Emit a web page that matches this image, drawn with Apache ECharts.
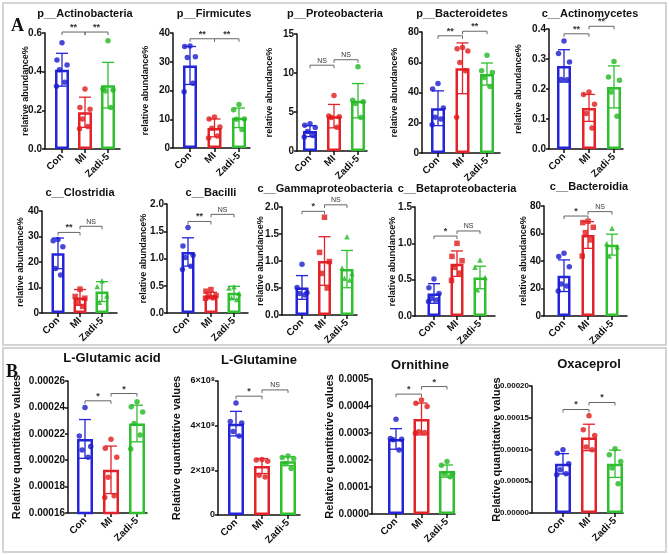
<!DOCTYPE html>
<html>
<head>
<meta charset="utf-8">
<script src="https://cdn.jsdelivr.net/npm/echarts@6/dist/echarts.min.js"></script>
<style>
html, body { margin: 0; padding: 0; background: #fff; }
#main { width: 669px; height: 555px; }
</style>
</head>
<body>
<div id="main"></div>
<script>
var groups = ["Con", "MI", "Zadi-5"];

// p__Actinobacteria
var actinoMean = [0.41, 0.19, 0.33];
var actinoSd = [0.085, 0.078, 0.118];
var actinoDots = [[0.55, 0.46, 0.435, 0.41, 0.345, 0.325], [0.31, 0.215, 0.205, 0.155, 0.117, 0.105], [0.56, 0.31, 0.305, 0.30, 0.215]];
var actinoSig = [[0, 1, 0.605, "**"], [1, 2, 0.605, "**"]];

// p__Firmicutes
var firmiMean = [28.7, 7.0, 10.5];
var firmiSd = [6.6, 3.1, 3.4];
var firmiDots = [[35.5, 35.3, 31.7, 31.5, 22.5, 19.6], [10.8, 10.1, 7.3, 6.9, 4.2, 3.5], [15.1, 13.3, 10.1, 10.0, 6.4]];
var firmiSig = [[0, 1, 38, "**"], [1, 2, 38, "**"]];

// p__Proteobacteria
var proteoMean = [2.55, 4.47, 6.45];
var proteoSd = [0.7, 1.5, 2.2];
var proteoDots = [[3.5, 3.3, 3.0, 2.5, 2.0, 1.8], [7.1, 4.5, 4.4, 4.3, 3.05], [10.8, 6.5, 6.3, 6.1, 4.3]];
var proteoSig = [[0, 1, 11.0, "NS"], [1, 2, 11.7, "NS"]];

// p__Bacteroidetes
var bacteMean = [29.6, 56, 52.2];
var bacteSd = [11.5, 16.8, 7.3];
var bacteDots = [[46.0, 42.3, 29.8, 23.7, 22.5, 18.6], [69.7, 69.0, 67.5, 59.9, 54.4, 23.7], [64.7, 54.4, 53.3, 50.0, 43.9]];
var bacteSig = [[0, 1, 77.5, "**"], [1, 2, 80.5, "**"]];

// c__Actinomycetes
var mycetMean = [0.277, 0.137, 0.207];
var mycetSd = [0.054, 0.045, 0.07];
var mycetDots = [[0.36, 0.318, 0.29, 0.232, 0.231], [0.19, 0.182, 0.149, 0.118, 0.07], [0.292, 0.24, 0.229, 0.19, 0.109]];
var mycetSig = [[0, 1, 0.384, "**"], [1, 2, 0.409, "**"]];

// c__Clostridia
var clostMean = [23.4, 6.1, 8.4];
var clostSd = [6.0, 3.1, 3.9];
var clostDots = [[28.8, 28.3, 26, 17.5, 14.9], [9.35, 6.5, 5.8, 4.2, 2.6], [12.6, 10.4, 6.8, 4.2]];
var clostSig = [[0, 1, 31.6, "**"], [1, 2, 34, "NS"]];

// c__Bacilli
var baciMean = [1.12, 0.32, 0.37];
var baciSd = [0.26, 0.06, 0.12];
var baciDots = [[1.57, 1.23, 1.06, 1.02, 0.86, 0.80], [0.43, 0.40, 0.32, 0.31, 0.28, 0.27], [0.48, 0.46, 0.36, 0.28, 0.25]];
var baciSig = [[0, 1, 1.68, "**"], [1, 2, 1.81, "NS"]];

// c__Gammaproteobacteria
var gammaMean = [0.51, 1.0, 0.85];
var gammaSd = [0.22, 0.45, 0.345];
var gammaDots = [[0.94, 0.51, 0.41, 0.40, 0.37], [1.81, 1.16, 0.99, 0.77, 0.50], [1.45, 0.87, 0.77, 0.68, 0.65]];
var gammaSig = [[0, 1, 1.92, "*"], [1, 2, 2.04, "NS"]];

// c__Betaproteobacteria
var betaMean = [0.31, 0.72, 0.53];
var betaSd = [0.135, 0.175, 0.155];
var betaDots = [[0.51, 0.39, 0.31, 0.24, 0.22, 0.2], [1.0, 0.82, 0.76, 0.67, 0.59, 0.49], [0.77, 0.67, 0.53, 0.36]];
var betaSig = [[0, 1, 1.10, "*"], [1, 2, 1.17, "NS"]];

// c__Bacteroidia
var bdiaMean = [29.3, 58.9, 51.9];
var bdiaSd = [11.5, 9.7, 7.6];
var bdiaDots = [[45.6, 43.2, 35.9, 23.3, 21.8, 18.2], [68.9, 67.9, 64.5, 60.6, 55.3, 43.6], [63.8, 52.8, 50.4, 43.6]];
var bdiaSig = [[0, 1, 72.7, "*"], [1, 2, 75.9, "NS"]];

// L-Glutamic acid
var gluaMean = [0.0002161, 0.0001927, 0.0002278];
var gluaSd = [0.0000147, 0.0000180, 0.0000139];
var gluaDots = [[0.00024, 0.0002183, 0.0002103, 0.0002077, 0.0002022], [0.0002158, 0.000209, 0.0002022, 0.0001871, 0.0001731, 0.0001718], [0.0002442, 0.0002404, 0.0002366, 0.0002278, 0.000219, 0.0002085]];
var gluaSig = [[0, 1, 0.000245, "*"], [1, 2, 0.0002505, "*"]];

// L-Glutamine
var glnMean = [4.09e8, 2.19e8, 2.41e8];
var glnSd = [0.55e8, 0.335e8, 0.2e8];
var glnDots = [[5.02e8, 4.19e8, 4.12e8, 3.74e8, 3.54e8], [2.49e8, 2.46e8, 2.41e8, 1.78e8, 1.70e8], [2.64e8, 2.58e8, 2.53e8, 2.31e8, 2.08e8]];
var glnSig = [[0, 1, 5.32e8, "*"], [1, 2, 5.6e8, "NS"]];

// Ornithine
var ornMean = [0.000278, 0.000352, 0.000159];
var ornSd = [0.000038, 0.000059, 0.0000225];
var ornDots = [[0.000351, 0.00028, 0.000277, 0.000275, 0.000237], [0.000422, 0.00041, 0.000398, 0.000305, 0.000302, 0.000299], [0.000194, 0.000181, 0.00015, 0.000148, 0.000138]];
var ornSig = [[0, 1, 0.000444, "*"], [1, 2, 0.000472, "*"]];

// Oxaceprol
var oxaMean = [0.0000775, 0.000119, 0.0000775];
var oxaSd = [0.000016, 0.0000208, 0.0000215];
var oxaDots = [[0.0000995, 0.000094, 0.0000775, 0.0000681, 0.000062, 0.0000602], [0.000153, 0.000131, 0.000122, 0.000104, 0.0000995], [0.000101, 0.0000916, 0.0000812, 0.0000707, 0.0000461]];
var oxaSig = [[0, 1, 0.000163, "*"], [1, 2, 0.000174, "*"]];

var barColors = ["#2424d8", "#e4222a", "#2fbf2f"];
var dotColors = ["#1a1acc", "#e01a1a", "#22b822"];
var FONT = '"Liberation Sans", Arial, sans-serif';

// title, y range, data, layout (axis x, first/last bar centre, axis end, top, bottom, name gap, label font)
var panels = [
	{ title: "p__Actinobacteria", tx: 85, ty: 14, min: 0, max: 0.6, step: 0.2, dec: 1, mean: actinoMean, sd: actinoSd, dots: actinoDots, sig: actinoSig, ax: 45, c0: 62, c2: 108, end: 120, top: 33, bottom: 149, gap: 15, bw: 14, row: 0 },
	{ title: "p__Firmicutes", tx: 214, ty: 14, min: 0, max: 40, step: 10, dec: 0, mean: firmiMean, sd: firmiSd, dots: firmiDots, sig: firmiSig, ax: 173, c0: 190, c2: 239, end: 250, top: 33, bottom: 148, gap: 23, bw: 14, row: 0 },
	{ title: "p__Proteobacteria", tx: 335, ty: 14, min: 0, max: 15, step: 5, dec: 0, mean: proteoMean, sd: proteoSd, dots: proteoDots, sig: proteoSig, ax: 297, c0: 310, c2: 358, end: 367, top: 34, bottom: 151, gap: 23, bw: 14, row: 0 },
	{ title: "p__Bacteroidetes", tx: 462, ty: 14, min: 0, max: 80, step: 20, dec: 0, mean: bacteMean, sd: bacteSd, dots: bacteDots, sig: bacteSig, ax: 422, c0: 438, c2: 487, end: 500, top: 32, bottom: 153, gap: 23, bw: 14, row: 0 },
	{ title: "c__Actinomycetes", tx: 590, ty: 14, min: 0, max: 0.4, step: 0.1, dec: 1, mean: mycetMean, sd: mycetSd, dots: mycetDots, sig: mycetSig, ax: 549, c0: 564, c2: 614, end: 623, top: 29, bottom: 149, gap: 26, bw: 14, row: 0 },
	{ title: "c__Clostridia", tx: 80, ty: 193, min: 0, max: 40, step: 10, dec: 0, mean: clostMean, sd: clostSd, dots: clostDots, sig: clostSig, ax: 42, c0: 58, c2: 102, end: 117, top: 211, bottom: 313, gap: 17, bw: 13, row: 1 },
	{ title: "c__Bacilli", tx: 211, ty: 193, min: 0, max: 2, step: 0.5, dec: 1, mean: baciMean, sd: baciSd, dots: baciDots, sig: baciSig, ax: 167, c0: 188, c2: 234, end: 248, top: 204, bottom: 313, gap: 19, bw: 13, row: 1 },
	{ title: "c__Gammaproteobacteria", tx: 325, ty: 189, min: 0, max: 2, step: 0.5, dec: 1, mean: gammaMean, sd: gammaSd, dots: gammaDots, sig: gammaSig, ax: 282, c0: 302, c2: 347, end: 357, top: 207, bottom: 315, gap: 17, bw: 13, row: 1 },
	{ title: "c__Betaproteobacteria", tx: 457, ty: 189, min: 0, max: 1.5, step: 0.5, dec: 1, mean: betaMean, sd: betaSd, dots: betaDots, sig: betaSig, ax: 415, c0: 434, c2: 480, end: 495, top: 207, bottom: 316, gap: 18, bw: 13, row: 1 },
	{ title: "c__Bacteroidia", tx: 589, ty: 187, min: 0, max: 80, step: 20, dec: 0, mean: bdiaMean, sd: bdiaSd, dots: bdiaDots, sig: bdiaSig, ax: 544, c0: 564, c2: 612, end: 627, top: 206, bottom: 316, gap: 16, bw: 13, row: 1 },
	{ title: "L-Glutamic acid", tx: 112, ty: 358, min: 0.00016, max: 0.00026, step: 0.00002, dec: 5, mean: gluaMean, sd: gluaSd, dots: gluaDots, sig: gluaSig, ax: 68, c0: 85, c2: 137, end: 147, top: 381, bottom: 513, gap: 46, bw: 16, row: 2 },
	{ title: "L-Glutamine", tx: 259, ty: 360, min: 0, max: 6e8, step: 2e8, sci: true, mean: glnMean, sd: glnSd, dots: glnDots, sig: glnSig, ax: 218, c0: 236, c2: 288, end: 300, top: 381, bottom: 515, gap: 36, bw: 16, row: 2, lf: 9 },
	{ title: "Ornithine", tx: 420, ty: 365, min: 0, max: 0.0005, step: 0.0001, dec: 4, mean: ornMean, sd: ornSd, dots: ornDots, sig: ornSig, ax: 372, c0: 396, c2: 447, end: 455, top: 379, bottom: 514, gap: 37, bw: 16, row: 2 },
	{ title: "Oxaceprol", tx: 589, ty: 364, min: 0, max: 0.0002, step: 0.00005, dec: 5, mean: oxaMean, sd: oxaSd, dots: oxaDots, sig: oxaSig, ax: 532, c0: 563, c2: 615, end: 623, top: 386, bottom: 513, gap: 30, bw: 16, row: 2, lf: 8 }
];

// horizontal spread of the points inside a bar, in category units
var jitter = [0, -0.22, 0.22, -0.11, 0.12, -0.24];
var rowSymbols = [["circle", "circle", "circle"], ["circle", "rect", "triangle"], ["circle", "circle", "circle"]];

var option = {
	animation: false,
	backgroundColor: "#fff",
	textStyle: { fontFamily: FONT },
	grid: [], xAxis: [], yAxis: [], series: [],
	graphic: [
		{ type: "rect", shape: { x: 3, y: 3, width: 663, height: 342 }, style: { fill: "none", stroke: "#d4d4d4", lineWidth: 2 } },
		{ type: "rect", shape: { x: 3, y: 348, width: 663, height: 204 }, style: { fill: "none", stroke: "#d4d4d4", lineWidth: 2 } },
		{ type: "text", x: 11, y: 17, style: { text: "A", font: 'bold 18px "Liberation Serif", serif', fill: "#111" } },
		{ type: "text", x: 6, y: 363, style: { text: "B", font: 'bold 18px "Liberation Serif", serif', fill: "#111" } }
	]
};

panels.forEach(function (p, i) {
	var d = (p.c2 - p.c0) / 2;
	var yName = p.row == 2 ? "Relative quantitative values" : "relative abundance%";
	option.grid.push({ left: p.ax, top: p.top, width: p.end - p.ax, height: p.bottom - p.top });
	option.xAxis.push({
		type: "value", gridIndex: i,
		min: -(p.c0 - p.ax) / d, max: 2 + (p.end - p.c2) / d,
		splitLine: { show: false },
		axisLine: { show: true, onZero: false, lineStyle: { color: "#111", width: 1.5 } },
		axisTick: { show: true, customValues: [0, 1, 2], length: 4, lineStyle: { color: "#111", width: 1.5 } },
		axisLabel: {
			show: true, customValues: [0, 1, 2], rotate: 45, margin: 6,
			fontSize: 10, fontWeight: "bold", color: "#111", fontFamily: FONT,
			formatter: function (v) { return groups[Math.round(v)]; }
		}
	});
	option.yAxis.push({
		type: "value", gridIndex: i, min: p.min, max: p.max, interval: p.step,
		name: yName, nameLocation: "middle", nameGap: p.gap, nameMoveOverlap: false,
		nameTextStyle: { fontSize: p.row == 2 ? 11 : 9, fontWeight: "bold", color: "#111", fontFamily: FONT },
		splitLine: { show: false },
		axisLine: { show: true, onZero: false, lineStyle: { color: "#111", width: 1.5 } },
		axisTick: { show: true, length: 3, lineStyle: { color: "#111", width: 1.5 } },
		axisLabel: {
			fontSize: p.lf || 10, fontWeight: "bold", color: "#111", margin: 3, fontFamily: FONT,
			formatter: function (v) {
				if (p.sci) return v === 0 ? "0" : Math.round(v / 1e8) + "×10⁸";
				return v.toFixed(p.dec);
			}
		}
	});
	option.graphic.push({
		type: "text", x: p.tx, y: p.ty,
		style: { text: p.title, font: (p.row == 2 ? "bold 13px " : "bold 11px ") + FONT, fill: "#111", textAlign: "center", textVerticalAlign: "middle" }
	});

	// hollow bars
	option.series.push({
		type: "bar", xAxisIndex: i, yAxisIndex: i, barWidth: p.bw, z: 2,
		data: p.mean.map(function (m, g) {
			return { value: [g, m], itemStyle: { color: "#fff", borderColor: barColors[g], borderWidth: 2.5 } };
		})
	});

	// points
	p.dots.forEach(function (vals, g) {
		option.series.push({
			type: "scatter", xAxisIndex: i, yAxisIndex: i, z: 3,
			symbol: rowSymbols[p.row][g], symbolSize: 5.5,
			itemStyle: { color: dotColors[g] },
			data: vals.map(function (v, k) { return [g + jitter[k % jitter.length], v]; })
		});
	});

	// error bars (mean ± SD)
	option.series.push({
		type: "custom", xAxisIndex: i, yAxisIndex: i, z: 4,
		data: p.mean.map(function (m, g) { return [g, m - p.sd[g], m + p.sd[g]]; }),
		renderItem: function (params, api) {
			var g = params.dataIndex;
			var hi = api.coord([api.value(0), api.value(2)]);
			var lo = api.coord([api.value(0), api.value(1)]);
			var st = { stroke: barColors[g], lineWidth: 1.3 };
			return { type: "group", children: [
				{ type: "line", shape: { x1: hi[0], y1: hi[1], x2: lo[0], y2: lo[1] }, style: st },
				{ type: "line", shape: { x1: hi[0] - 6, y1: hi[1], x2: hi[0] + 6, y2: hi[1] }, style: st },
				{ type: "line", shape: { x1: lo[0] - 6, y1: lo[1], x2: lo[0] + 6, y2: lo[1] }, style: st }
			] };
		}
	});

	// significance brackets
	option.series.push({
		type: "custom", xAxisIndex: i, yAxisIndex: i, z: 5,
		data: p.sig.map(function (s) { return [s[0], s[2], s[1]]; }),
		renderItem: function (params, api) {
			var s = p.sig[params.dataIndex];
			var a = api.coord([s[0], s[2]]);
			var b = api.coord([s[1], s[2]]);
			var ns = s[3] == "NS";
			return { type: "group", children: [
				{ type: "polyline", shape: { points: [[a[0], a[1] + 3], a, b, [b[0], b[1] + 3]] }, style: { fill: "none", stroke: "#666", lineWidth: 1 } },
				{ type: "text", x: (a[0] + b[0]) / 2, y: a[1] - (ns ? 1 : 0), style: { text: s[3], font: (ns ? "7px " : "bold 9px ") + FONT, fill: "#333", textAlign: "center", textVerticalAlign: "bottom" } }
			] };
		}
	});
});

var chart = echarts.init(document.getElementById("main"));
chart.setOption(option);
</script>
</body>
</html>
